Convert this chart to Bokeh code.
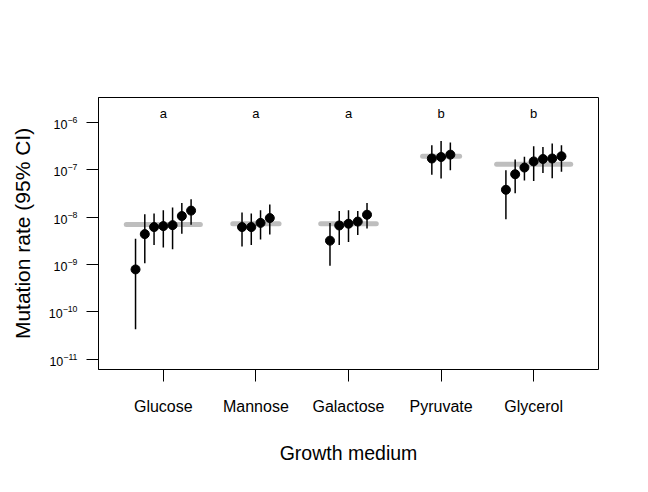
from bokeh.plotting import figure
from bokeh.models import FixedTicker, ColumnDataSource
from bokeh.embed import file_html
from bokeh.resources import INLINE
from bokeh.core.properties import value

media = ["Glucose", "Mannose", "Galactose", "Pyruvate", "Glycerol"]
letters = ["a", "a", "a", "b", "b"]
group_rate = [7.0e-9, 7.3e-9, 7.3e-9, 1.94e-7, 1.31e-7]

point_rate = [
    [7.9e-10, 4.4e-9, 6.2e-9, 6.5e-9, 6.8e-9, 1.06e-8, 1.38e-8],
    [6.2e-9, 6.2e-9, 7.6e-9, 9.6e-9],
    [3.2e-9, 6.7e-9, 7.3e-9, 8.1e-9, 1.13e-8],
    [1.74e-7, 1.87e-7, 2.1e-7],
    [3.8e-8, 8.1e-8, 1.12e-7, 1.51e-7, 1.7e-7, 1.74e-7, 1.94e-7],
]
ci_low = [
    [4.3e-11, 1.07e-9, 2.6e-9, 2.3e-9, 2.1e-9, 4.5e-9, 6.9e-9],
    [2.4e-9, 2.6e-9, 3.4e-9, 4.3e-9],
    [9.5e-10, 2.6e-9, 3.0e-9, 4.2e-9, 5.8e-9],
    [7.9e-8, 6.6e-8, 9.8e-8],
    [9.1e-9, 3.2e-8, 6.0e-8, 5.8e-8, 8.6e-8, 6.7e-8, 9.1e-8],
]
ci_high = [
    [3.5e-9, 1.15e-8, 1.2e-8, 1.4e-8, 1.6e-8, 2.0e-8, 2.4e-8],
    [1.26e-8, 1.2e-8, 1.4e-8, 1.86e-8],
    [7.6e-9, 1.35e-8, 1.4e-8, 1.35e-8, 2.0e-8],
    [3.3e-7, 4.1e-7, 3.8e-7],
    [9.8e-8, 1.65e-7, 1.9e-7, 3.16e-7, 3.05e-7, 3.6e-7, 3.3e-7],
]

FONT = "Liberation Sans"
step = 0.1

# build point positions (dodged around each group centre)
xs, ys, lo, hi = [], [], [], []
bx0, bx1 = [], []
for g, rates in enumerate(point_rate):
    n = len(rates)
    c = g + 1
    offs = [step * (j - (n - 1) / 2) for j in range(n)]
    for j in range(n):
        xs.append(c + offs[j])
        ys.append(rates[j])
        lo.append(ci_low[g][j])
        hi.append(ci_high[g][j])
    bx0.append(c + offs[0] - step)
    bx1.append(c + offs[-1] + step)

pts = ColumnDataSource(dict(x=xs, y=ys, lo=lo, hi=hi))
bars = ColumnDataSource(dict(x0=bx0, x1=bx1, y=group_rate))
lab = ColumnDataSource(dict(x=list(range(1, len(media) + 1)),
                            y=[1.55e-6] * len(media), t=letters))

p = figure(width=648, height=492, y_axis_type="log",
           x_range=(0.3, 5.7), y_range=(10 ** -11.216, 10 ** -5.471),
           output_backend="svg", toolbar_location=None,
           min_border_left=98, min_border_right=50,
           min_border_top=97, min_border_bottom=123)
p.background_fill_color = "white"
p.border_fill_color = "white"
p.xgrid.visible = False
p.ygrid.visible = False
p.outline_line_color = "black"
p.outline_line_width = 1
p.outline_line_alpha = 1

# group mean bars
p.segment(x0="x0", y0="y", x1="x1", y1="y", source=bars,
          line_color="#BEBEBE", line_width=5, line_cap="round")
# CIs
p.segment(x0="x", y0="lo", x1="x", y1="hi", source=pts,
          line_color="black", line_width=1.5)
p.scatter(x="x", y="y", source=pts, size=9, fill_color="black",
          line_color="black")
p.text(x="x", y="y", text="t", source=lab, text_font=value(FONT),
       text_font_size="13px", text_align="center", text_baseline="middle",
       text_color="black")

xa = p.xaxis[0]
xa.ticker = FixedTicker(ticks=list(range(1, len(media) + 1)))
xa.major_label_overrides = {i + 1: m for i, m in enumerate(media)}
xa.axis_line_color = None
xa.major_tick_out = 12
xa.major_tick_in = 0
xa.minor_tick_line_color = None
xa.major_tick_line_color = "black"
xa.major_label_text_font = FONT
xa.major_label_text_font_size = "16px"
xa.major_label_text_color = "black"
xa.major_label_standoff = 16
xa.axis_label = "Growth medium"
xa.axis_label_text_font = FONT
xa.axis_label_text_font_size = "19.5px"
xa.axis_label_text_font_style = "normal"
xa.axis_label_text_color = "black"
xa.axis_label_standoff = 24

ya = p.yaxis[0]
ya.ticker = FixedTicker(ticks=[1e-11, 1e-10, 1e-9, 1e-8, 1e-7, 1e-6])
ya.axis_line_color = "black"
ya.major_tick_out = 12
ya.major_tick_in = 0
ya.minor_tick_line_color = None
ya.major_tick_line_color = "black"
ya.major_label_text_font = FONT
ya.major_label_text_font_size = "12.5px"
ya.major_label_text_color = "black"
ya.major_label_standoff = 9
ya.axis_label = "Mutation rate (95% CI)"
ya.axis_label_text_font = FONT
ya.axis_label_text_font_size = "21px"
ya.axis_label_text_font_style = "normal"
ya.axis_label_text_color = "black"
ya.axis_label_standoff = 12

open("out.html", "w").write(file_html(p, INLINE))
